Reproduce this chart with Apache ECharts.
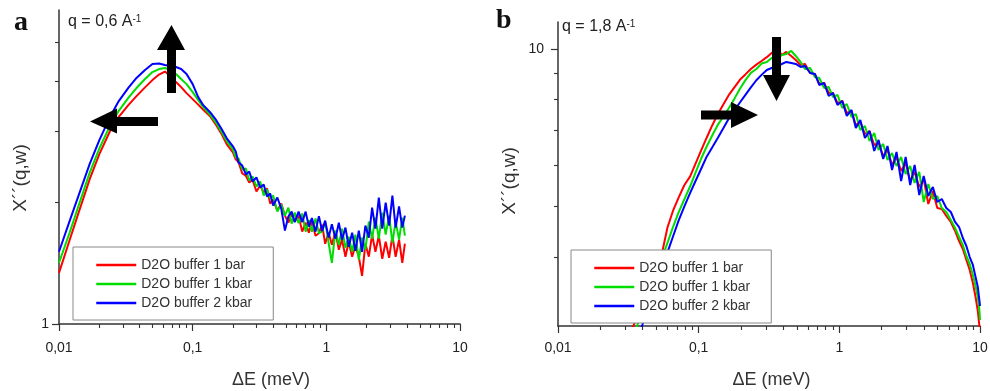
<!DOCTYPE html>
<html><head><meta charset="utf-8">
<script src="https://cdn.jsdelivr.net/npm/echarts@6/dist/echarts.min.js"></script>
<style>html,body{margin:0;padding:0;background:#fff}#c{width:990px;height:391px}</style>
</head><body><div id="c"></div>
<script>
// ---- Panel a : q = 0,6 A^-1 ----
const energyA = [0.01,0.012,0.014,0.017,0.02,0.024,0.028,0.033,0.038,0.044,0.05,0.056,0.062,0.068,0.075,0.082,0.09,0.1,0.11,0.12,0.135,0.15,0.165,0.18,0.2,
  0.21,0.22,0.235,0.25,0.265,0.28,0.3,0.32,0.34,0.36,0.38,0.4,0.43,0.46,0.49,0.52,0.55,0.58,0.62,0.66,0.7,0.74,0.78,0.83,0.88,0.93,0.98,1.04,1.1,1.17,1.24,1.31,1.39,1.47,1.56,1.65,1.75,1.85,1.96,2.08,2.2,2.33,2.47,2.62,2.78,2.95,3.12,3.3,3.5,3.7,3.87];
const redA = [1.339,1.613,1.885,2.289,2.633,3.000,3.262,3.488,3.670,3.858,4.022,4.151,4.223,4.116,3.977,3.864,3.734,3.608,3.496,3.397,3.273,3.108,2.952,2.788,2.663,
  2.558,2.52,2.361,2.33,2.243,2.281,2.130,2.204,2.118,2.167,1.988,2.034,1.910,1.988,1.856,1.783,1.878,1.794,1.856,1.694,1.783,1.684,1.794,1.655,1.679,1.763,1.581,1.684,1.572,1.694,1.528,1.618,1.468,1.599,1.468,1.563,1.468,1.316,1.581,1.468,1.665,1.510,1.655,1.451,1.599,1.459,1.655,1.468,1.618,1.418,1.581];
const greenA = [1.418,1.683,1.962,2.376,2.718,3.092,3.376,3.632,3.844,4.046,4.211,4.284,4.309,4.260,4.163,4.046,3.931,3.756,3.587,3.446,3.301,3.144,2.986,2.836,2.709,
  2.588,2.573,2.416,2.430,2.268,2.321,2.192,2.255,2.082,2.154,2.046,2.082,1.899,1.977,1.856,1.943,1.773,1.888,1.778,1.878,1.694,1.809,1.694,1.825,1.679,1.694,1.794,1.590,1.418,1.704,1.572,1.723,1.545,1.646,1.510,1.665,1.443,1.637,1.528,1.794,1.627,1.835,1.627,1.888,1.665,1.856,1.590,1.794,1.618,1.835,1.655];
const blueA = [1.510,1.798,2.080,2.496,2.851,3.252,3.568,3.847,4.071,4.262,4.408,4.421,4.383,4.358,4.333,4.284,4.163,3.931,3.649,3.486,3.349,3.199,3.038,2.885,2.756,
  2.678,2.515,2.47,2.348,2.388,2.255,2.308,2.179,2.217,2.070,2.106,1.966,2.058,1.932,1.704,1.846,1.899,1.788,1.899,1.788,1.899,1.743,1.830,1.694,1.851,1.699,1.804,1.637,1.768,1.627,1.783,1.618,1.733,1.554,1.684,1.519,1.704,1.510,1.753,1.637,1.943,1.723,2.058,1.723,2.000,1.753,2.082,1.733,1.955,1.733,1.856];

// ---- Panel b : q = 1,8 A^-1 ----
const energyB = [0.033,0.036,0.04,0.045,0.05,0.055,0.06,0.066,0.072,0.079,0.087,0.095,0.104,0.114,0.125,0.137,0.15,0.165,0.18,0.197,0.215,0.235,0.257,0.28,0.305,0.33,0.36,0.39,0.42,0.455,
  0.49,0.53,0.57,0.62,0.67,0.72,0.78,0.84,0.9,0.97,1.05,1.13,1.22,1.31,1.41,1.52,1.64,1.77,1.9,2.05,2.2,2.37,2.55,2.75,2.96,3.19,3.43,3.7,3.98,4.29,4.62,4.97,5.35,5.76,6.2,6.65,7.1,7.55,8.0,8.45,8.9,9.3,9.65,9.9,10];
const redB = [2.876,3.050,3.278,3.551,3.814,4.082,4.557,4.921,5.198,5.489,5.706,6.037,6.390,6.766,7.149,7.509,7.840,8.190,8.455,8.740,8.940,9.157,9.334,9.485,9.645,9.824,10.0,9.739,9.869,9.696,
  9.527,9.320,9.361,8.997,8.958,8.572,8.610,8.239,8.239,7.884,7.954,7.544,7.611,7.156,7.251,6.878,6.970,6.553,6.611,6.243,6.411,6.001,6.216,5.844,6.054,5.593,5.819,5.447,5.642,5.054,5.352,4.966,4.944,4.794,4.669,4.488,4.294,4.146,3.950,3.780,3.569,3.356,3.155,2.954,2.777];
const greenB = [2.747,2.928,3.162,3.446,3.720,3.992,4.259,4.582,4.871,5.155,5.464,5.803,6.167,6.510,6.842,7.166,7.429,7.726,8.045,8.404,8.717,9.001,9.157,9.377,9.444,9.612,9.569,9.739,9.782,9.912,
  9.696,9.444,9.157,9.198,8.840,8.801,8.422,8.459,8.095,8.167,7.712,7.849,7.413,7.511,7.000,7.125,6.670,6.909,6.411,6.582,6.134,6.327,5.974,6.216,5.768,5.974,5.544,5.819,5.099,5.519,5.166,5.235,4.966,4.879,4.711,4.547,4.371,4.219,4.020,3.881,3.697,3.523,3.356,3.169,3.033];
const blueB = [2.566,2.743,2.980,3.266,3.543,3.820,4.086,4.394,4.696,4.997,5.307,5.593,5.896,6.224,6.490,6.767,7.059,7.387,7.641,7.908,8.170,8.444,8.713,8.922,9.117,9.198,9.279,9.361,9.444,9.402,
  9.361,9.238,9.279,8.997,8.958,8.534,8.610,8.131,8.239,7.815,7.954,7.445,7.645,7.062,7.316,6.758,6.970,6.382,6.699,6.161,6.524,5.870,6.354,5.593,6.216,5.495,6.001,5.258,5.717,5.235,5.447,5.099,5.166,4.966,4.879,4.669,4.567,4.351,4.201,4.002,3.864,3.665,3.507,3.312,3.226];

// ---- ticks / labels ----
const xMajorTicks = [0.01, 0.1, 1, 10];
const xMinorTicks = [0.02,0.03,0.04,0.05,0.06,0.07,0.08,0.09,0.2,0.3,0.4,0.5,0.6,0.7,0.8,0.9,2,3,4,5,6,7,8,9];
const yMajorA = [1];
const yMinorA = [2, 3, 4, 5];
const yMajorB = [10];
const yMinorB = [4, 5, 6, 7, 8, 9];
const seriesNames = ['D2O buffer 1 bar', 'D2O buffer 1 kbar', 'D2O buffer 2 kbar'];
const seriesColors = ['#ff0000', '#00dd00', '#0000ff'];
const xName = 'ΔE (meV)';
const yName = 'X´´(q,w)';

const FONT = '"Liberation Sans", Arial, sans-serif';
const AX = '#333';
const fmt = v => String(v).replace('.', ',');

function majorAxis(grid, pos, min, max, ticks, extra) {
  return Object.assign({
    type: 'log', logBase: 10, gridIndex: grid, position: pos, min: min, max: max,
    axisLine: { show: true, onZero: false, lineStyle: { color: AX, width: 1.5 } },
    axisTick: { show: true, length: 7, customValues: ticks, lineStyle: { color: AX, width: 1.2 } },
    splitLine: { show: false }, minorTick: { show: false }
  }, extra);
}
function minorAxis(grid, pos, min, max, ticks) {
  return {
    type: 'log', logBase: 10, gridIndex: grid, position: pos, min: min, max: max,
    axisLine: { show: false, onZero: false },
    axisTick: { show: true, length: 4, customValues: ticks, lineStyle: { color: AX, width: 1.1 } },
    axisLabel: { show: false }, splitLine: { show: false }
  };
}
function label(ticks, margin) {
  return { show: true, customValues: ticks, formatter: fmt, margin: margin, fontSize: 14, color: '#222', fontFamily: FONT };
}
function mk(name, xs, ys, xi, color) {
  return {
    name: name, type: 'line', xAxisIndex: xi, yAxisIndex: xi, symbol: 'none', showSymbol: false,
    color: color, lineStyle: { color: color, width: 2 }, data: xs.map((x, i) => [x, ys[i]]), z: 3
  };
}
function legend(left, top) {
  return {
    data: seriesNames, orient: 'vertical', left: left, top: top, padding: [11, 21, 10, 22],
    itemWidth: 40, itemHeight: 14, itemGap: 5, borderColor: '#888', borderWidth: 1, backgroundColor: '#fff',
    itemStyle: { opacity: 0 }, lineStyle: { width: 2.5 },
    textStyle: { fontSize: 14, color: '#333', fontFamily: FONT }, selectedMode: false
  };
}
const nameStyleX = { fontSize: 18, color: '#333', fontFamily: FONT };

const option = {
  animation: false,
  backgroundColor: '#fff',
  grid: [
    { left: 59, top: 10, width: 401, height: 314, outerBoundsMode: 'none' },
    { left: 558, top: 22, width: 422, height: 304, outerBoundsMode: 'none' }
  ],
  xAxis: [
    majorAxis(0, 'bottom', 0.01, 10, xMajorTicks, { name: xName, nameLocation: 'middle', nameGap: 47,
      nameTextStyle: Object.assign({ padding: [0, 0, 0, 23] }, nameStyleX), axisLabel: label(xMajorTicks, 17) }),
    minorAxis(0, 'bottom', 0.01, 10, xMinorTicks),
    majorAxis(1, 'bottom', 0.01, 10, xMajorTicks, { name: xName, nameLocation: 'middle', nameGap: 45,
      nameTextStyle: Object.assign({ padding: [0, 0, 0, 5] }, nameStyleX), axisLabel: label(xMajorTicks, 15) }),
    minorAxis(1, 'bottom', 0.01, 10, xMinorTicks)
  ],
  yAxis: [
    majorAxis(0, 'left', 1, 6, yMajorA, { name: yName, nameLocation: 'middle', nameGap: 29, nameRotate: 90,
      nameTextStyle: Object.assign({ padding: [0, 22, 0, 0] }, nameStyleX, { fontSize: 19 }), axisLabel: label(yMajorA, 10) }),
    minorAxis(0, 'left', 1, 6, yMinorA),
    majorAxis(1, 'left', 2.954, 11.26, yMajorB, { name: yName, nameLocation: 'middle', nameGap: 39, nameRotate: 90,
      nameTextStyle: Object.assign({ padding: [0, 14, 0, 0] }, nameStyleX, { fontSize: 19 }), axisLabel: label(yMajorB, 14) }),
    minorAxis(1, 'left', 2.954, 11.26, yMinorB)
  ],
  legend: [legend(73, 247), legend(571, 250)],
  series: [
    mk(seriesNames[0], energyA, redA, 0, seriesColors[0]),
    mk(seriesNames[1], energyA, greenA, 0, seriesColors[1]),
    mk(seriesNames[2], energyA, blueA, 0, seriesColors[2]),
    mk(seriesNames[0], energyB, redB, 2, seriesColors[0]),
    mk(seriesNames[1], energyB, greenB, 2, seriesColors[1]),
    mk(seriesNames[2], energyB, blueB, 2, seriesColors[2])
  ],
  graphic: [
    { type: 'text', x: 14, y: 9, style: { text: 'a', font: 'bold 28px "Liberation Serif", serif', fill: '#111' } },
    { type: 'text', x: 496, y: 7, style: { text: 'b', font: 'bold 28px "Liberation Serif", serif', fill: '#111' } },
    { type: 'text', x: 68, y: 14, style: { text: 'q = 0,6 A{s|-1}', font: '16px ' + FONT, fill: '#222',
        rich: { s: { fontSize: 10, verticalAlign: 'top', fontFamily: FONT } } } },
    { type: 'text', x: 562, y: 19, style: { text: 'q = 1,8 A{s|-1}', font: '16px ' + FONT, fill: '#222',
        rich: { s: { fontSize: 10, verticalAlign: 'top', fontFamily: FONT } } } },
    // arrows (annotations)
    { type: 'polygon', z: 10, shape: { points: [[167,93],[176,93],[176,50],[185,50],[171.5,25],[157,50],[167,50]] }, style: { fill: '#000' } },
    { type: 'polygon', z: 10, shape: { points: [[158,117],[158,126],[117,126],[117,133.5],[90,121.5],[117,108.5],[117,117]] }, style: { fill: '#000' } },
    { type: 'polygon', z: 10, shape: { points: [[772,37],[781,37],[781,75],[790,75],[776.5,101],[763,75],[772,75]] }, style: { fill: '#000' } },
    { type: 'polygon', z: 10, shape: { points: [[701,110.5],[731,110.5],[731,102],[758,115],[731,128],[731,119.5],[701,119.5]] }, style: { fill: '#000' } }
  ]
};
const chart = echarts.init(document.getElementById('c'), null, { renderer: 'canvas' });
chart.setOption(option);
</script></body></html>
